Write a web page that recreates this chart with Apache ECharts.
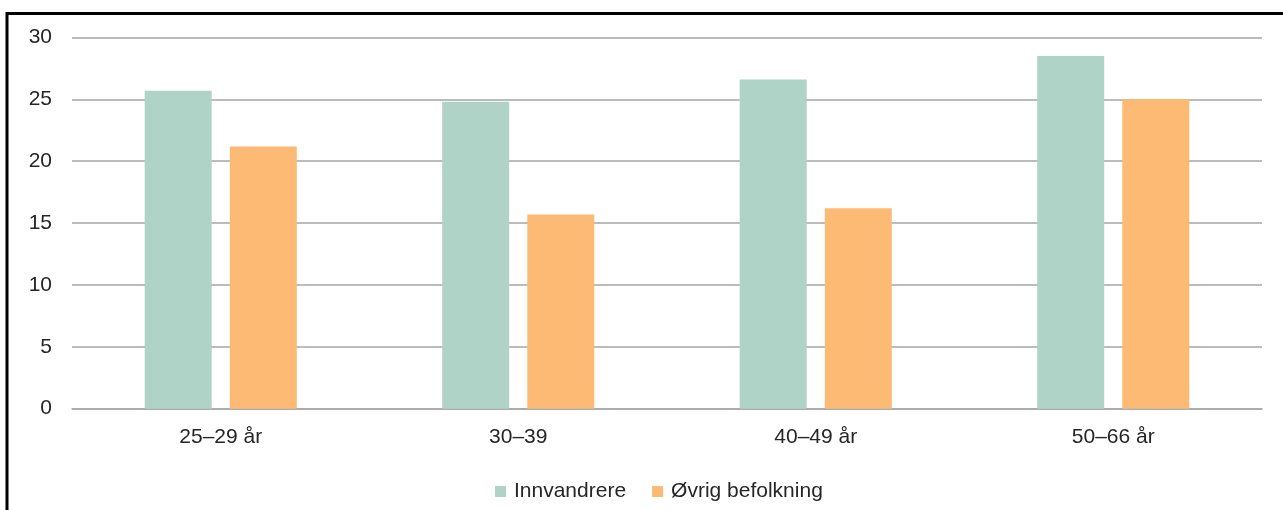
<!DOCTYPE html>
<html>
<head>
<meta charset="utf-8">
<script src="https://cdn.jsdelivr.net/npm/echarts@6/dist/echarts.min.js"></script>
<style>
html,body{margin:0;padding:0;background:#fff;}
#chart{width:1283px;height:510px;}
</style>
</head>
<body>
<div id="chart"></div>
<script>
const categories = ["25–29 år", "30–39", "40–49 år", "50–66 år"];
const innvandrere = [25.7, 24.8, 26.6, 28.5];
const ovrigBefolkning = [21.2, 15.7, 16.2, 25.0];
const seriesNames = ["Innvandrere", "Øvrig befolkning"];

const chart = echarts.init(document.getElementById('chart'), null, {renderer: 'canvas'});
const textColor = '#262626';
const gridColor = '#a6a6a6';
chart.setOption({
  animation: false,
  backgroundColor: '#ffffff',
  textStyle: {fontFamily: 'Liberation Sans, Arial, sans-serif'},
  grid: {left: 72, right: 21, top: 37.5, bottom: 101.3, containLabel: false},
  legend: {
    data: seriesNames,
    left: 495, top: 481, padding: 0,
    itemWidth: 11, itemHeight: 11, itemGap: 26,
    icon: 'rect',
    textStyle: {color: textColor, fontSize: 21, padding: [0, 0, 0, 3]}
  },
  xAxis: {
    type: 'category',
    data: categories,
    axisTick: {show: false},
    axisLine: {show: true, lineStyle: {color: gridColor, width: 1.5}},
    axisLabel: {color: textColor, fontSize: 21, margin: 18, interval: 0}
  },
  yAxis: {
    type: 'value',
    min: 0, max: 30, interval: 5,
    axisLine: {show: false},
    axisTick: {show: false},
    splitLine: {lineStyle: {color: gridColor, width: 1.5}},
    axisLabel: {color: textColor, fontSize: 21, margin: 20}
  },
  series: [
    {name: seriesNames[0], type: 'bar', data: innvandrere, barWidth: 67, barGap: '27%',
     itemStyle: {color: '#afd3c6'}},
    {name: seriesNames[1], type: 'bar', data: ovrigBefolkning, barWidth: 67,
     itemStyle: {color: '#fdba74'}}
  ],
  graphic: [{
    type: 'polyline',
    shape: {points: [[7, 510], [7, 13.5], [1283, 13.5]]},
    style: {stroke: '#000', lineWidth: 3, fill: null},
    silent: true
  }]
});
</script>
</body>
</html>
